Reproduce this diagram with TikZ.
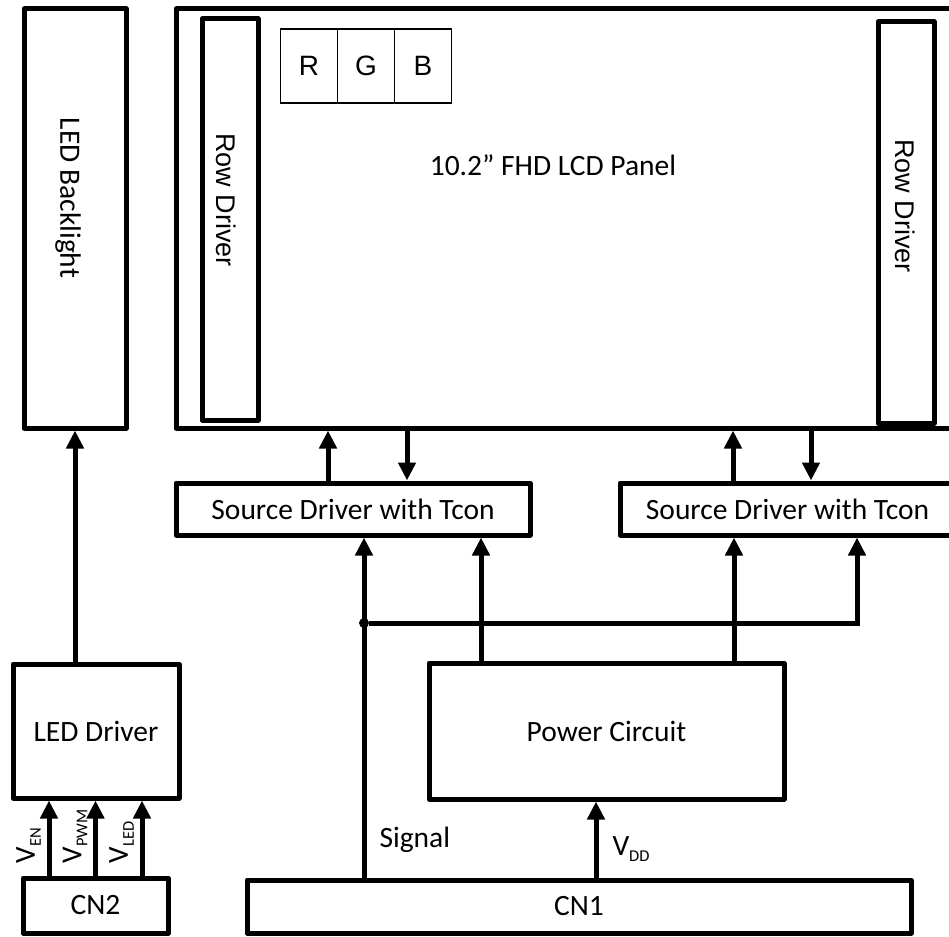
\documentclass[tikz,border=0pt]{standalone}
\usepackage{fontspec}
\setmainfont{Carlito}
\newfontfamily\arialfont{Liberation Sans}
\usetikzlibrary{positioning,arrows.meta}
\newcommand{\lowsub}[1]{\raisebox{-6pt}{\fontsize{16.5}{18}\selectfont #1}}

\begin{document}
\begin{tikzpicture}[x=1pt, y=-1pt,
  blk/.style={draw, line width=5pt, line join=round, inner sep=0pt,
              font=\fontsize{29.5}{35}\selectfont},
  pix/.style={draw, line width=1.5pt, inner sep=0pt, minimum width=57pt,
              minimum height=74pt, font=\arialfont\fontsize{28}{34}\selectfont},
  lab/.style={inner sep=0pt, font=\fontsize{29.5}{35}\selectfont},
  rlab/.style={rotate=-90, inner sep=0pt, font=\arialfont\fontsize{27}{32}\selectfont},
  vlab/.style={rotate=90, inner sep=0pt, anchor=south west, font=\fontsize{29}{34}\selectfont},
  arr/.style={-{Triangle[length=18pt, width=17pt]}, line width=5pt},
  jdot/.style={circle, fill, inner sep=0pt, minimum size=10pt}]
  \useasboundingbox (0,0) rectangle (949,936);
  \clip (0,0) rectangle (949,936);
  % panel and backlight, top row
  \node[blk, minimum width=102pt, minimum height=419pt] (bl)    at (75,218.5)  {};
  \node[rlab, font=\fontsize{29.5}{35}\selectfont]      (bltxt) at (68,198)    {LED Backlight};
  \node[blk, minimum width=784pt, minimum height=419pt] (panel) at (568,218.5) {};
  \node[lab]                                            (ptxt)  at (553,165)   {10.2” FHD LCD Panel};
  \node[blk, minimum width=56pt, minimum height=401pt]  (rdl)   at (230,219.5) {};
  \node[rlab]                                           (rdltx) at (226,200)   {Row Driver};
  \node[blk, minimum width=56pt, minimum height=401pt]  (rdr)   at (906,222.5) {};
  \node[rlab]                                           (rdrtx) at (905,206)   {Row Driver};
  \node[pix] (r) at (309,66) {R};
  \node[pix] (g) at (366,66) {G};
  \node[pix] (b) at (423,66) {B};
  % source drivers
  \node[blk, minimum width=354pt, minimum height=52pt] (sdl) at (353,509)   {Source Driver with Tcon};
  \node[blk, minimum width=335pt, minimum height=52pt] (sdr) at (787.5,509) {Source Driver with Tcon};
  % power and connectors
  \node[blk, minimum width=355pt, minimum height=136pt] (pwr) at (606.5,731) {Power Circuit};
  \node[blk, minimum width=664pt, minimum height=53pt]  (cn1) at (579,906.5) {CN1};
  \node[blk, minimum width=166pt, minimum height=134pt] (led) at (96,731)    {LED Driver};
  \node[blk, minimum width=145pt, minimum height=55pt]  (cn2) at (95.5,905.5) {CN2};
  \node[jdot] (jn) at (364,623) {};
  % panel <-> source drivers
  \draw[arr] ([xshift=-25pt]sdl.north) -- ([xshift=-25pt]sdl.north |- panel.south);
  \draw[arr] ([xshift=54pt]sdl.north |- panel.south) -- ([xshift=54pt]sdl.north);
  \draw[arr] ([xshift=-54.5pt]sdr.north) -- ([xshift=-54.5pt]sdr.north |- panel.south);
  \draw[arr] ([xshift=23.5pt]sdr.north |- panel.south) -- ([xshift=23.5pt]sdr.north);
  % signal and supply
  \draw[arr] ([xshift=-215pt]cn1.north) -- ([xshift=-215pt]cn1.north |- sdl.south)
    node[pos=0.11, right=13pt, lab] {Signal};
  \draw[arr] (jn) -| ([xshift=69.5pt]sdr.south);
  \draw[arr] ([xshift=-125.5pt]pwr.north) -- ([xshift=-125.5pt]pwr.north |- sdl.south);
  \draw[arr] ([xshift=127.5pt]pwr.north) -- ([xshift=127.5pt]pwr.north |- sdr.south);
  \draw[arr] ([xshift=17pt]cn1.north) -- ([xshift=17pt]cn1.north |- pwr.south)
    node[pos=0.37, right=14pt, lab] {V\lowsub{DD}};
  % backlight side
  \draw[arr] (bl.south |- led.north) -- (bl.south);
  \foreach \dx/\sub in {-46.5/EN, 0/PWM, 46.5/LED} {
    \draw[arr] ([xshift=\dx pt]cn2.north) -- ([xshift=\dx pt]cn2.north |- led.south);
    \node[vlab] at ([xshift={\dx pt-8pt}, yshift=12pt]cn2.north) {V\lowsub{\sub}};
  }
\end{tikzpicture}
\end{document}
